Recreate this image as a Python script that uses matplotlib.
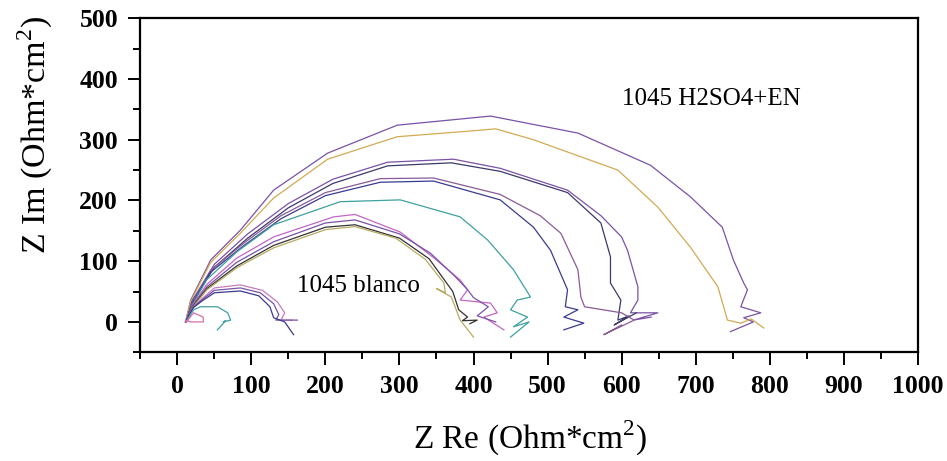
import matplotlib
matplotlib.use("Agg")
import matplotlib.pyplot as plt
from matplotlib.ticker import MultipleLocator

plt.rcParams['font.family'] = ['Liberation Serif', 'DejaVu Serif']
plt.rcParams['mathtext.fontset'] = 'custom'
plt.rcParams['mathtext.rm'] = 'Liberation Serif'

# Nyquist spectra, acero 1045 en H2SO4 con inhibidor (EN)
en1_x = [11, 18, 45, 85, 130, 203, 297, 423, 541, 639, 693, 736, 751, 765, 770, 761, 788, 765, 778, 747]
en1_y = [0, 36, 102, 151, 217, 278, 324, 339, 311, 258, 206, 156, 102, 64, 53, 25, 15, 7, 0, -16]

en2_x = [11, 18, 45, 85, 130, 203, 297, 392, 430, 481, 595, 649, 693, 730, 743, 761, 775, 792]
en2_y = [0, 34, 98, 146, 204, 268, 305, 314, 318, 300, 250, 189, 123, 58, 3, -2, 5, -10]

en3_x = [12, 20, 50, 95, 150, 210, 284, 373, 436, 527, 572, 600, 608, 622, 622, 612, 649, 616, 640]
en3_y = [0, 35, 95, 145, 195, 235, 263, 268, 253, 217, 175, 140, 118, 58, 36, 15, 15, 3, 8]

en4_x = [12, 20, 50, 95, 150, 210, 284, 370, 436, 527, 572, 585, 585, 599, 595, 610, 590, 620]
en4_y = [0, 33, 90, 138, 188, 228, 257, 262, 248, 213, 163, 107, 64, 36, 3, 10, -5, 15]

en5_x = [12, 20, 45, 90, 140, 200, 274, 346, 436, 490, 518, 541, 545, 550, 575, 600, 617, 576, 600]
en5_y = [0, 32, 85, 130, 175, 213, 236, 237, 210, 175, 146, 86, 41, 25, 20, 15, 3, -21, -5]

en6_x = [12, 20, 45, 90, 140, 200, 274, 346, 436, 481, 504, 527, 524, 541, 522, 549, 522]
en6_y = [0, 30, 82, 126, 170, 208, 230, 232, 201, 156, 118, 53, 25, 20, 8, -2, -13]

en7_x = [12, 20, 40, 80, 130, 220, 301, 382, 419, 454, 477, 459, 450, 473, 454, 475, 450]
en7_y = [0, 28, 70, 115, 160, 198, 201, 173, 135, 86, 41, 36, 20, 8, -8, 0, -25]

en8_x = [12, 20, 40, 80, 130, 211, 240, 301, 346, 382, 392, 382, 423, 432, 414, 441]
en8_y = [0, 27, 62, 105, 140, 173, 177, 148, 106, 69, 53, 36, 31, 15, 8, -13]

en9_x = [12, 20, 40, 80, 130, 200, 240, 300, 342, 375, 392, 400, 420, 405, 430]
en9_y = [0, 26, 58, 98, 132, 163, 168, 145, 113, 75, 53, 40, 25, 10, 0]

en10_x = [12, 20, 40, 80, 130, 200, 240, 300, 340, 372, 380, 392, 385, 405, 395]
en10_y = [0, 24, 55, 92, 126, 156, 160, 138, 104, 50, 20, 8, 2, 3, -3]

en11_x = [12, 20, 40, 80, 130, 200, 240, 295, 335, 360, 362, 350, 370, 382, 400]
en11_y = [0, 23, 53, 89, 122, 152, 157, 138, 103, 64, 48, 55, 41, 3, -25]

# blanco
bl1_x = [11, 15, 22, 35, 50, 85, 115, 135, 145, 140, 155]
bl1_y = [0, 10, 25, 40, 56, 61, 52, 33, 15, 3, 3]
bl2_x = [11, 15, 22, 35, 50, 85, 112, 130, 137, 133, 162]
bl2_y = [0, 10, 25, 38, 52, 56, 48, 30, 12, 3, 3]
bl3_x = [11, 15, 22, 35, 50, 85, 110, 125, 130, 145, 157]
bl3_y = [0, 10, 24, 36, 48, 51, 43, 25, 7, 0, -21]
bl4_x = [14, 22, 31, 54, 68, 72, 62, 65, 58, 54]
bl4_y = [5, 20, 25, 25, 15, 3, 0, 2, -8, -13]
bl5_x = [11, 14, 22, 35, 35, 18, 11]
bl5_y = [0, 3, 15, 8, 0, 0, 3]

series = [
    (en1_x, en1_y, '#7a52a6'),
    (en2_x, en2_y, '#d2aa55'),
    (en3_x, en3_y, '#7a52a6'),
    (en4_x, en4_y, '#3c3a6a'),
    (en5_x, en5_y, '#8a5a96'),
    (en6_x, en6_y, '#3a3a90'),
    (en7_x, en7_y, '#3fa0a0'),
    (en8_x, en8_y, '#c466c4'),
    (en9_x, en9_y, '#7a52a6'),
    (en10_x, en10_y, '#333333'),
    (en11_x, en11_y, '#b8aa60'),
    (bl1_x, bl1_y, '#c77cbf'),
    (bl2_x, bl2_y, '#7a52a6'),
    (bl3_x, bl3_y, '#3a3a90'),
    (bl4_x, bl4_y, '#3fa0a0'),
    (bl5_x, bl5_y, '#d46fae'),
]

fig = plt.figure(figsize=(9.47, 4.61), dpi=100)
ax = fig.add_axes([0.1482, 0.2358, 0.8209, 0.7245])

for x, y, c in series:
    ax.plot(x, y, color=c, lw=0.9)

ax.set_xlim(-50, 1000)
ax.set_ylim(-50, 500)
ax.xaxis.set_major_locator(MultipleLocator(100))
ax.xaxis.set_minor_locator(MultipleLocator(50))
ax.yaxis.set_major_locator(MultipleLocator(100))
ax.yaxis.set_minor_locator(MultipleLocator(50))
ax.tick_params(which='both', direction='out', width=1.4, top=False, right=False)
ax.tick_params(which='major', length=9, labelsize=18.5, pad=7)
ax.tick_params(which='minor', length=5)
for lab in ax.get_xticklabels() + ax.get_yticklabels():
    lab.set_fontweight('bold')
for s in ax.spines.values():
    s.set_linewidth(1.6)

ax.set_xlabel(r'Z Re (Ohm*cm$^\mathregular{2}$)', fontsize=24)
ax.set_ylabel(r'Z Im (Ohm*cm$^\mathregular{2}$)', fontsize=24.5)
ax.xaxis.set_label_coords(0.501, -0.2)
ax.yaxis.set_label_coords(-0.11, 0.65)

ax.text(162, 49, '1045 blanco', fontsize=18)
ax.text(601, 358, '1045 H2SO4+EN', fontsize=18)

fig.savefig('out.png', dpi=100)
